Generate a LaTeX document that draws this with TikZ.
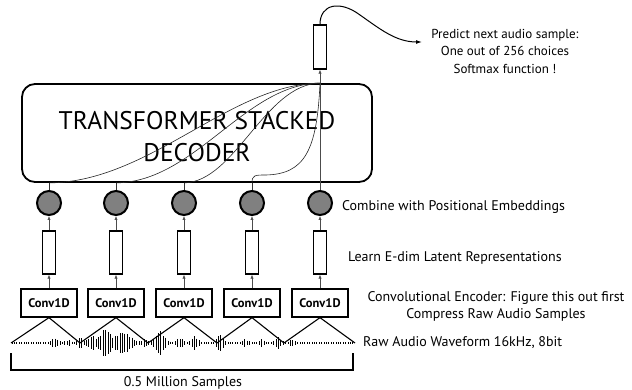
\documentclass[tikz,border=0pt]{standalone}
\usepackage{fontspec}
\setmainfont{PT Sans}
\usetikzlibrary{arrows.meta}
\begin{document}
\begin{tikzpicture}[x=1pt,y=-1pt,
  decbox/.style={draw, line width=1.8pt, rounded corners=13pt, minimum width=350pt, minimum height=98pt, inner sep=0pt},
  latbox/.style={draw, line width=1.2pt, minimum width=13pt, minimum height=43pt, inner sep=0pt},
  emb/.style={draw, circle, line width=2pt, fill=black!50, minimum size=24pt, inner sep=0pt},
  convbox/.style={draw, line width=1.3pt, minimum width=56pt, minimum height=28pt, inner sep=0pt, font=\fontsize{12.5}{14}\selectfont\bfseries},
  lbl/.style={font=\fontsize{14}{17}\selectfont, inner sep=0pt},
  toplbl/.style={font=\fontsize{13}{17.5}\selectfont, inner sep=0pt},
  arr/.style={draw=black!70, line width=0.6pt, -{Latex[length=4pt,width=3.2pt]}},
  stub/.style={draw=black!80, line width=0.7pt},
  curve/.style={draw=black!85, line width=0.6pt},
  tri/.style={draw, line width=1.1pt},
  wave/.style={draw, line width=0.9pt},
  toparr/.style={draw, line width=1pt, -{Latex[length=6pt,width=4pt]}}
]
\useasboundingbox (0,0) rectangle (632,390);

% decoder
\node[decbox] (dec) at (197,133) {};
\node[font=\fontsize{25.5}{32}\selectfont, align=center, inner sep=0pt] (title) at (197,137) {TRANSFORMER STACKED\\DECODER};

% output
\node[latbox, minimum height=44pt] (out) at (320,47) {};
\node[toplbl, align=center] (pred) at (505,51) {Predict next audio sample:\\One out of 256 choices\\Softmax function !};
\coordinate (tip) at (422,42);
\draw[toparr] (out.north) .. controls (320,4) and (340,0) .. (360,15) .. controls (380,29) and (396,42) .. (tip);

% columns
\foreach \i/\x in {1/49,2/116,3/184,4/252,5/320} {
  \node[emb] (c\i) at (\x,203) {};
  \node[latbox] (l\i) at (\x,252.5) {};
  \node[convbox] (v\i) at (\x,303) {Conv1D};
  \draw[arr] (v\i) -- (l\i);
  \draw[arr] (l\i) -- (c\i);
}
\foreach \i in {1,2,3,4} {
  \draw[stub] (c\i.north) -- (c\i.north |- dec.south);
}
\coordinate (top) at (out.south |- dec.north);
\draw[arr] (c5.north) -- (out.south);

% attention curves
\draw[curve] (c1.north |- dec.south) .. controls (150,182) and (230,84) .. (top);
\draw[curve] (c2.north |- dec.south) .. controls (195,182) and (245,84) .. (top);
\draw[curve] (c3.north |- dec.south) .. controls (235,182) and (265,84) .. (top);
\draw[curve] (c4.north |- dec.south) .. controls (252,175) and (255,175) .. (266,175) .. controls (305,174) and (317,150) .. (top);

% triangles
\coordinate (b0) at (11,343);
\coordinate (b1) at (80,343);
\coordinate (b2) at (148,343);
\coordinate (b3) at (217,343);
\coordinate (b4) at (284,343);
\coordinate (b5) at (355,343);
\draw[tri] (b0) -- (v1.south) -- (b1);
\draw[tri] (b1) -- (v2.south) -- (b2);
\draw[tri] (b2) -- (v3.south) -- (b3);
\draw[tri] (b3) -- (v4.south) -- (b4);
\draw[tri] (b4) -- (v5.south) -- (b5);

% waveform
\foreach \x in {12,14.4,...,354} {
  \pgfmathsetmacro{\env}{0.9
    + 4*exp(max(-15,-((\x-55)/4)*((\x-55)/4)))
    + 2*exp(max(-15,-((\x-68)/4)*((\x-68)/4)))
    + 5*exp(max(-15,-((\x-80)/3)*((\x-80)/3)))
    + 6*exp(max(-15,-((\x-92)/5)*((\x-92)/5)))
    + 13*exp(max(-15,-((\x-105)/6)*((\x-105)/6)))
    + 10*exp(max(-15,-((\x-123)/10)*((\x-123)/10)))
    + 3*exp(max(-15,-((\x-145)/3)*((\x-145)/3)))
    + 11*exp(max(-15,-((\x-160)/6)*((\x-160)/6)))
    + 4*exp(max(-15,-((\x-180)/4)*((\x-180)/4)))
    + 6*exp(max(-15,-((\x-195)/4)*((\x-195)/4)))
    + 8*exp(max(-15,-((\x-220)/4)*((\x-220)/4)))
    + 3*exp(max(-15,-((\x-245)/4)*((\x-245)/4)))
    + 3*exp(max(-15,-((\x-262)/3)*((\x-262)/3)))
    + 5*exp(max(-15,-((\x-278)/4)*((\x-278)/4)))
    + 3*exp(max(-15,-((\x-292)/3)*((\x-292)/3)))}
  \pgfmathsetmacro{\amp}{\env*(0.75+0.25*abs(sin(\x*43)))}
  \draw[wave] (\x,343-\amp) -- (\x,343+\amp);
}

% bracket
\coordinate (k1) at (11,353);
\coordinate (k2) at (11,370);
\coordinate (k3) at (353,370);
\coordinate (k4) at (353,353);
\draw[line width=1.1pt] (k1) -- (k2) -- (k3) -- (k4);
\node[lbl] (ms) at (183,383) {0.5 Million Samples};

% side labels
\node[lbl, anchor=west] (comb) at (342,207) {Combine with Positional Embeddings};
\node[lbl, anchor=west] (learn) at (348,258) {Learn E-dim Latent Representations};
\node[lbl, align=center] (enc) at (496,306) {Convolutional Encoder: Figure this out first\\Compress Raw Audio Samples};
\node[lbl, anchor=west] (raw) at (363,343) {Raw Audio Waveform 16kHz, 8bit};
\end{tikzpicture}
\end{document}
